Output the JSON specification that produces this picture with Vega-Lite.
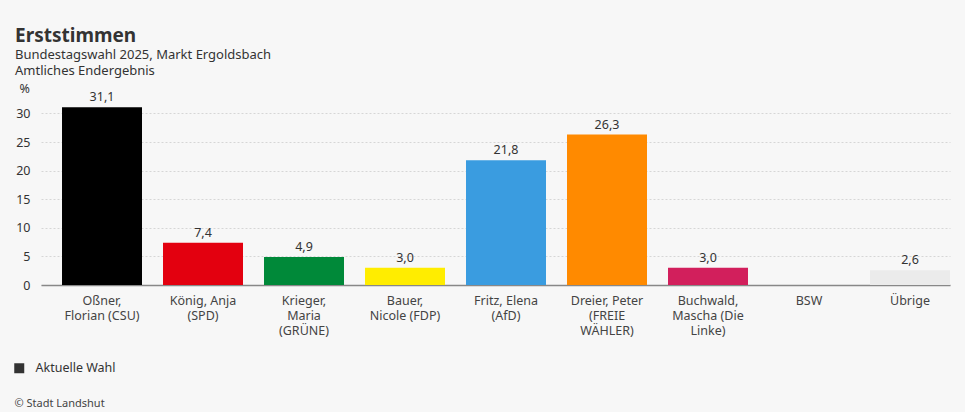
{
  "$schema": "https://vega.github.io/schema/vega-lite/v6.json",
  "autosize": "none",
  "width": 909,
  "height": 183,
  "padding": {"left": 41, "top": 102, "right": 15, "bottom": 127},
  "background": "#f7f7f7",
  "title": {
    "text": "Erststimmen",
    "subtitle": ["Bundestagswahl 2025, Markt Ergoldsbach", "Amtliches Endergebnis"],
    "anchor": "start",
    "frame": "group",
    "dx": -26,
    "offset": 4,
    "font": "Noto Sans",
    "fontSize": 19,
    "fontWeight": "bold",
    "color": "#333333",
    "subtitleFont": "Noto Sans",
    "subtitleFontSize": 13,
    "subtitleColor": "#333333",
    "subtitlePadding": 3,
    "subtitleLineHeight": 16
  },
  "data": {
    "values": [
      {"kandidat": "Oßner,\nFlorian (CSU)", "prozent": 31.1, "label": "31,1", "farbe": "#000000"},
      {"kandidat": "König, Anja\n(SPD)", "prozent": 7.4, "label": "7,4", "farbe": "#e3000f"},
      {"kandidat": "Krieger,\nMaria\n(GRÜNE)", "prozent": 4.9, "label": "4,9", "farbe": "#008939"},
      {"kandidat": "Bauer,\nNicole (FDP)", "prozent": 3.0, "label": "3,0", "farbe": "#ffed00"},
      {"kandidat": "Fritz, Elena\n(AfD)", "prozent": 21.8, "label": "21,8", "farbe": "#3a9ce0"},
      {"kandidat": "Dreier, Peter\n(FREIE\nWÄHLER)", "prozent": 26.3, "label": "26,3", "farbe": "#ff8a00"},
      {"kandidat": "Buchwald,\nMascha (Die\nLinke)", "prozent": 3.0, "label": "3,0", "farbe": "#d21f5c"},
      {"kandidat": "BSW", "prozent": null, "label": "", "farbe": "#7b2450"},
      {"kandidat": "Übrige", "prozent": 2.6, "label": "2,6", "farbe": "#ebebeb"}
    ]
  },
  "encoding": {
    "x": {
      "field": "kandidat",
      "type": "nominal",
      "sort": null,
      "scale": {
        "domain": ["Oßner,\nFlorian (CSU)", "König, Anja\n(SPD)", "Krieger,\nMaria\n(GRÜNE)", "Bauer,\nNicole (FDP)", "Fritz, Elena\n(AfD)", "Dreier, Peter\n(FREIE\nWÄHLER)", "Buchwald,\nMascha (Die\nLinke)", "BSW", "Übrige"],
        "paddingInner": 0.208, "paddingOuter": 0.104, "align": 1
      },
      "axis": {
        "title": "© Stadt Landshut",
        "titleFont": "Noto Sans",
        "titleFontSize": 11,
        "titleFontWeight": "normal",
        "titleColor": "#444444",
        "titleAnchor": "start",
        "titleAlign": "left",
        "titleX": -27,
        "titleY": 112,
        "labelAngle": 0,
        "labelExpr": "split(datum.value, '\\n')",
        "labelFont": "Noto Sans",
        "labelFontSize": 12.5,
        "labelColor": "#444444",
        "labelLineHeight": 15,
        "labelPadding": 9,
        "labelBaseline": "top",
        "ticks": false,
        "domainColor": "#888888",
        "domainWidth": 1.5,
        "grid": false
      }
    },
    "y": {
      "field": "prozent",
      "type": "quantitative",
      "scale": {"domain": [0, 32], "nice": false},
      "axis": {
        "title": "%",
        "titleAngle": 0,
        "titleX": -22,
        "titleY": -7,
        "titleAlign": "left",
        "titleFont": "Noto Sans",
        "titleFontSize": 12.5,
        "titleFontWeight": "normal",
        "titleColor": "#333333",
        "values": [0, 5, 10, 15, 20, 25, 30],
        "labelFont": "Noto Sans",
        "labelFontSize": 12.5,
        "labelColor": "#333333",
        "labelPadding": 11,
        "ticks": false,
        "domain": false,
        "grid": true,
        "gridColor": "#d6d6d6",
        "gridDash": [2, 2],
        "gridWidth": 1
      }
    }
  },
  "layer": [
    {
      "mark": {"type": "bar"},
      "encoding": {
        "color": {"field": "farbe", "type": "nominal", "scale": null, "legend": null}
      }
    },
    {
      "mark": {"type": "text", "dy": -10, "font": "Noto Sans", "fontSize": 12.5, "color": "#333333"},
      "encoding": {"text": {"field": "label"}}
    },
    {
      "data": {"values": [{"serie": "Aktuelle Wahl"}]},
      "mark": {"type": "point", "size": 0, "filled": true},
      "encoding": {
        "x": {"value": 0},
        "y": {"value": 0},
        "fill": {
          "field": "serie",
          "type": "nominal",
          "scale": {"range": ["#333333"]},
          "legend": {
            "title": null,
            "orient": "none",
            "legendX": -28,
            "legendY": 260,
            "symbolType": "square",
            "symbolSize": 100,
            "symbolOpacity": 1,
            "symbolStrokeWidth": 0,
            "labelFont": "Noto Sans",
            "labelFontSize": 12.5,
            "labelColor": "#333333",
            "labelOffset": 10
          }
        }
      }
    }
  ],
  "config": {"view": {"stroke": null}}
}
